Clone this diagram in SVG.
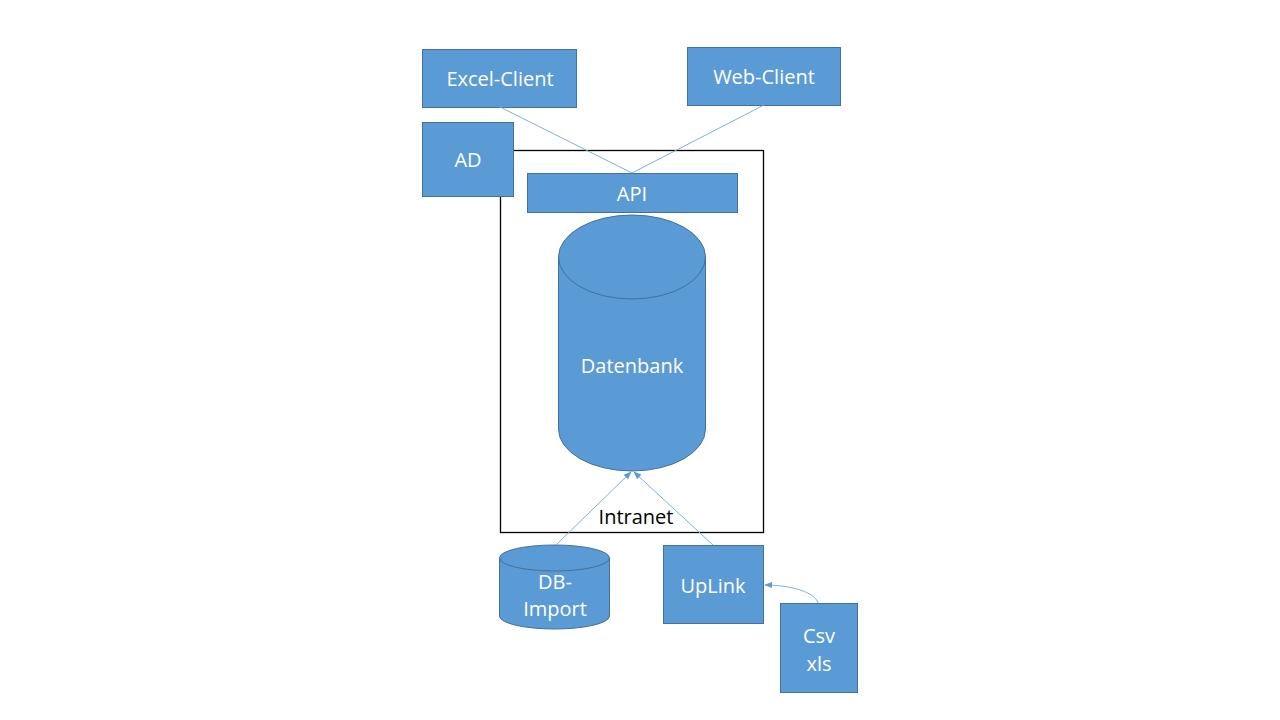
<svg xmlns="http://www.w3.org/2000/svg" width="1280" height="720" viewBox="0 0 1280 720">
<defs>
<style>
.n{fill:#5B9BD5;stroke:#41719C;stroke-width:1}
.t{fill:#fff;font-family:"Open Sans","Liberation Sans",sans-serif;font-size:20px;text-anchor:middle;dominant-baseline:central}
.c{stroke:#7FAFE0;stroke-width:1;fill:none}
</style>
<marker id="ah" viewBox="0 0 10 10" refX="9" refY="5" markerWidth="8" markerHeight="8" orient="auto-start-reverse">
<path d="M0,1 L10,5 L0,9 z" fill="#5B9BD5"/>
</marker>
</defs>
<rect width="1280" height="720" fill="#fff"/>
<g id="intranet">
<rect x="500.5" y="150.5" width="263" height="382" fill="none" stroke="#000" stroke-width="1.3"/>
<text x="636" y="516" font-family="'Open Sans','Liberation Sans',sans-serif" font-size="20" text-anchor="middle" dominant-baseline="central" fill="#000">Intranet</text>
</g>
<g id="excel-client"><rect class="n" x="422.5" y="49.5" width="154" height="58"/><text class="t" x="500" y="78">Excel-Client</text></g>
<g id="web-client"><rect class="n" x="687.5" y="47.5" width="153" height="58"/><text class="t" x="764" y="76">Web-Client</text></g>
<g id="ad"><rect class="n" x="422.5" y="122.5" width="91" height="74"/><text class="t" x="468" y="159">AD</text></g>
<g id="api"><rect class="n" x="527.5" y="173.5" width="210" height="39"/><text class="t" x="632" y="193">API</text></g>
<g id="datenbank">
<path class="n" d="M558.5,257 L558.5,429 A73.5,42 0 0 0 705.5,429 L705.5,257"/>
<ellipse class="n" cx="632" cy="257" rx="73.5" ry="42"/>
<text class="t" x="632" y="365">Datenbank</text>
</g>
<g id="db-import">
<path class="n" d="M499.5,558 L499.5,616 A55,13 0 0 0 609.5,616 L609.5,558"/>
<ellipse class="n" cx="554.5" cy="558" rx="55" ry="13"/>
<text class="t" x="555" y="581">DB-</text>
<text class="t" x="555" y="608">Import</text>
</g>
<g id="uplink"><rect class="n" x="663.5" y="545.5" width="100" height="78"/><text class="t" x="713" y="585">UpLink</text></g>
<g id="csv-xls"><rect class="n" x="780.5" y="603.5" width="77" height="89"/><text class="t" x="819" y="635">Csv</text><text class="t" x="819" y="663">xls</text></g>
<g id="connectors">
<line class="c" x1="500" y1="107" x2="632" y2="173"/>
<line class="c" x1="764" y1="105" x2="632" y2="173"/>
<line class="c" x1="556" y1="545" x2="631" y2="472" marker-end="url(#ah)"/>
<line class="c" x1="713" y1="545" x2="634" y2="472" marker-end="url(#ah)"/>
<path class="c" d="M818,603 C815,592 790,585 765,585" marker-end="url(#ah)"/>
</g>
</svg>
